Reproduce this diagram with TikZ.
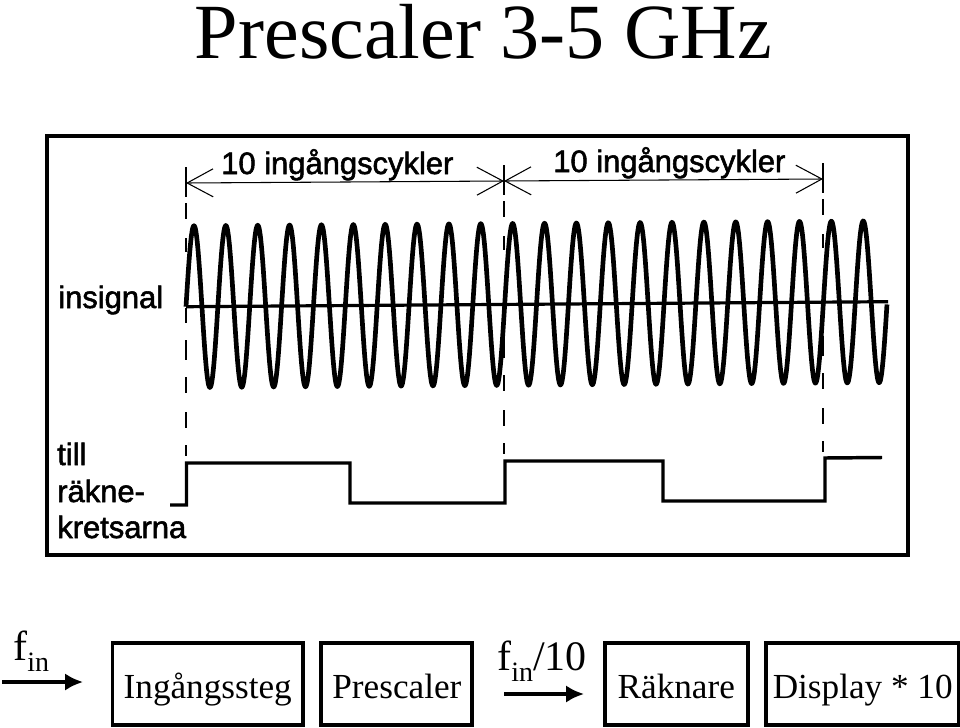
\documentclass[tikz,border=0pt]{standalone}
\usepackage{fontspec}
\usepackage{tikz}
\usetikzlibrary{arrows.meta,positioning}
\setmainfont{Liberation Serif}
\newfontfamily\scanfont{Liberation Sans}[FakeBold=1.8]

\begin{document}
\begin{tikzpicture}[
  x=0.75pt, y=-0.75pt,
  blockbox/.style={rectangle, draw, line width=2.9pt, minimum height=61.5pt, inner sep=0pt, text height=21pt, text depth=0pt, font=\fontsize{26.4}{30}\selectfont},
  scanlabel/.style={anchor=base west, inner sep=0pt, font=\scanfont\fontsize{23.2}{27.4}\selectfont},
  freqlabel/.style={anchor=base west, inner sep=0pt, font=\fontsize{31.5}{34}\selectfont},
  flow/.style={line width=2.4pt, -{Latex[length=13.5pt,width=13pt]}},
  span/.style={line width=0.8pt, {Straight Barb[length=19.5pt,width=21pt]}-{Straight Barb[length=19.5pt,width=21pt]}},
  guide/.style={line width=1pt},
  wave/.style={line width=3.5pt, line join=round},
  base/.style={line width=2.4pt},
  pulse/.style={line width=2.6pt, line join=miter}
]
\useasboundingbox (0,0) rectangle (960,728);

\node[anchor=base, inner sep=0pt, font=\fontsize{58.6}{60}\selectfont] (title) at (483.5,58) {Prescaler 3-5 GHz};

\node[draw, line width=2.9pt, minimum width=645.75pt, minimum height=314pt, inner sep=0pt] (frame) at (477.75,345.75) {};

\node[scanlabel] (span1) at (221,174) {10 ingångscykler};
\node[scanlabel] (span2) at (553,172) {10 ingångscykler};
\node[scanlabel] (insignal) at (58,308) {insignal};
\node[scanlabel] (till) at (57,465) {till};
\node[scanlabel] (rakne) at (57,502) {räkne-};
\node[scanlabel] (kretsarna) at (57,538) {kretsarna};

\coordinate (mark1) at (186,183);
\coordinate (mark2) at (504,181);
\coordinate (mark3) at (823,179);
\draw[span] (mark1) -- (mark2);
\draw[span] (mark2) -- (mark3);

\foreach \px/\dy in {186/0, 504/-2, 823/-4} {
  \foreach \ya/\yb in {167/197, 203/219, 238/252, 308/323, 340/360, 377/393, 412/428, 445/456} {
    \draw[guide] (\px,\ya+\dy) -- (\px,\yb+\dy);
  }
}

\draw[base] (186,306.7) -- (888,301.7);
\draw[wave] plot[domain=0:22, samples=529, smooth] ({186+31.87*\x}, {306.7-0.227*\x-81*sin(360*\x)});

\coordinate (pstart) at (170,505);
\coordinate (pend) at (882,457.5);
\draw[pulse] (pstart) -- (186.5,505) -- (186.5,463) -- (350,463) -- (350,503) -- (505,503) -- (505,461) -- (663,461) -- (663,501) -- (825,501) -- (825,458) -- (pend);

\node[blockbox, minimum width=142.9pt] (ingang) at (207.75,684) {Ingångssteg};
\node[blockbox, minimum width=113.25pt, right=10.9pt of ingang] (presc) {Prescaler};
\node[blockbox, minimum width=107.25pt, right=96.4pt of presc] (rakn) {Räknare};
\node[blockbox, minimum width=144.75pt, right=10.9pt of rakn] (disp) {Display * 10};

\node[freqlabel] (fin) at (13,660) {f\raisebox{-8.6pt}{\fontsize{21}{21}\selectfont in}};
\node[freqlabel] (findiv) at (497,670) {f\raisebox{-8.6pt}{\fontsize{21}{21}\selectfont in}/10};

\coordinate (fina) at (2,682);
\coordinate (finb) at (83,682);
\coordinate (diva) at (504,694);
\coordinate (divb) at (584,694);
\draw[flow] (fina) -- (finb);
\draw[flow] (diva) -- (divb);

\end{tikzpicture}
\end{document}
